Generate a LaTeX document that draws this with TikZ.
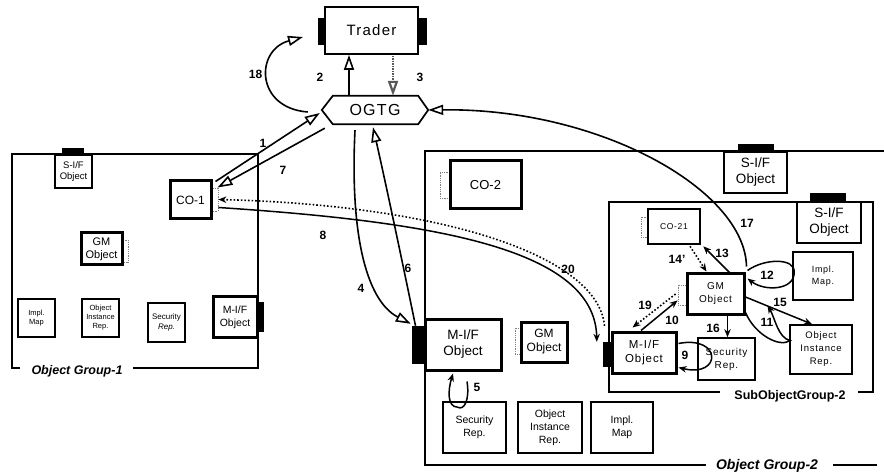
\documentclass[tikz,border=0pt]{standalone}
\usepackage{fontspec}
\setmainfont{Liberation Sans}
\newfontfamily\lsfont{Liberation Sans}[LetterSpace=8]
\usetikzlibrary{arrows.meta,calc}
\newcommand\fz[2]{\fontsize{#1}{#2}\selectfont}
\begin{document}
\begin{tikzpicture}[x=1pt,y=-1pt,
  bx/.style={draw, fill=white, inner sep=0pt, align=center, line width=1.6pt},
  thk/.style={line width=3pt},
  blk/.style={fill=black, draw=none, inner sep=0pt},
  dtab/.style={draw=gray, densely dotted, line width=0.8pt, fill=white, inner sep=0pt},
  frame/.style={line width=2.5pt},
  lbl/.style={font=\bfseries\fz{12}{13}},
  oarr/.style={-{Triangle[open,length=15pt,width=10pt]}, line width=1.6pt},
  farr/.style={-{Stealth[length=8pt,width=6.5pt]}, line width=1.5pt},
  dotarr/.style={-{Stealth[length=8pt,width=6.5pt]}, line width=1.6pt, dotted}
]
\useasboundingbox (0,0) rectangle (884,473);

% ---------- frames ----------
\draw[frame] (20,368) -- (12,368) -- (12,154) -- (258,154) -- (258,368) -- (133,368);
\node[font=\bfseries\itshape\fz{12.5}{14}] (og1) at (77,371) {Object Group-1};
\draw[frame] (884,151) -- (425,151) -- (425,465) -- (706,465);
\draw[frame] (833,465) -- (877,465);
\node[font=\bfseries\itshape\fz{14}{16}] (og2) at (767,466) {Object Group-2};
\draw[frame] (720,392) -- (609,392) -- (609,202) -- (873,202) -- (873,392) -- (858,392);
\node[font=\bfseries\fz{12.5}{14}] (sog2) at (790,396) {SubObjectGroup-2};

% ---------- Trader / OGTG ----------
\node[blk, minimum width=7pt, minimum height=27pt] (trL) at (321.5,31.5) {};
\node[blk, minimum width=9pt, minimum height=27pt] (trR) at (422.5,31.5) {};
\node[bx, line width=1.7pt, minimum width=93pt, minimum height=47pt, font=\lsfont\fz{15}{17}] (trader) at (371.5,30.5) {Trader};
\node[inner sep=0pt, minimum width=106pt, minimum height=28pt, font=\lsfont\fz{16}{18}] (ogtg) at (375,110) {OGTG};
\draw[line width=1.7pt] (ogtg.west) -- ($(ogtg.north west)+(11,0)$) -- ($(ogtg.north east)+(-10,0)$) -- (ogtg.east) -- ($(ogtg.south east)+(-10,0)$) -- ($(ogtg.south west)+(11,0)$) -- cycle;

% ---------- Object Group-1 ----------
\node[blk, minimum width=22pt, minimum height=7pt] (g1sitab) at (73,151.5) {};
\node[bx, line width=2.4pt, minimum width=37pt, minimum height=33pt, font=\fz{9.5}{11}] (g1si) at (73.5,171.5) {S-I/F\\Object};
\node[dtab, minimum width=7pt, minimum height=23pt] (co1tab) at (214.5,199.5) {};
\node[bx, thk, minimum width=41pt, minimum height=38pt, font=\fz{12}{14}] (co1) at (190.5,200) {CO-1};
\node[dtab, minimum width=6pt, minimum height=22pt] (g1gmtab) at (125,251) {};
\node[bx, thk, minimum width=41pt, minimum height=32pt, font=\fz{11}{13}] (g1gm) at (101.5,249) {GM\\Object};
\node[bx, line width=1.5pt, minimum width=37pt, minimum height=38pt, font=\fz{7.5}{9}] (g1im) at (36.5,318) {Impl.\\Map};
\node[bx, line width=1.5pt, minimum width=37pt, minimum height=38pt, font=\fz{7.5}{9}] (g1oir) at (100.5,318) {Object\\Instance\\Rep.};
\node[bx, line width=1.5pt, minimum width=37pt, minimum height=39pt, font=\fz{8}{10}] (g1sr) at (166.5,322.5) {Security\\\textit{Rep.}};
\node[blk, minimum width=8pt, minimum height=30pt] (g1miftab) at (260,317) {};
\node[bx, thk, minimum width=44pt, minimum height=40pt, font=\fz{10.5}{13}] (g1mif) at (235,317) {M-I/F\\Object};

% ---------- Object Group-2 ----------
\node[dtab, minimum width=10pt, minimum height=26pt] (co2tab) at (445,185) {};
\node[bx, thk, minimum width=71pt, minimum height=48pt, font=\fz{13}{15}] (co2) at (485.5,185) {CO-2};
\node[blk, minimum width=36pt, minimum height=8pt] (g2sitab) at (756,148) {};
\node[bx, line width=2.4pt, minimum width=63pt, minimum height=41pt, font=\fz{13.5}{16}] (g2si) at (755.5,172.5) {S-I/F\\Object};
\node[blk, minimum width=13pt, minimum height=38pt] (g2miftab) at (418.5,345) {};
\node[bx, thk, minimum width=76pt, minimum height=51pt, font=\fz{13.5}{16}] (g2mif) at (463,344.5) {M-I/F\\Object};
\node[dtab, minimum width=6pt, minimum height=26pt] (g2gmtab) at (518,341) {};
\node[bx, thk, minimum width=46pt, minimum height=40pt, font=\fz{12}{14}] (g2gm) at (544,342) {GM\\Object};
\node[bx, line width=1.7pt, minimum width=63pt, minimum height=51pt, font=\fz{10.5}{13}] (g2sr) at (474.5,427.5) {Security\\Rep.};
\node[bx, line width=1.7pt, minimum width=64pt, minimum height=51pt, font=\fz{10.5}{13}] (g2oir) at (550,427.5) {Object\\Instance\\Rep.};
\node[bx, line width=1.7pt, minimum width=62pt, minimum height=51pt, font=\fz{10.5}{13}] (g2im) at (622,427.5) {Impl.\\Map};

% ---------- SubObjectGroup-2 ----------
\node[blk, minimum width=36pt, minimum height=9pt] (sgsitab) at (828,197.5) {};
\node[bx, line width=2.6pt, minimum width=64pt, minimum height=41pt, font=\fz{13.5}{16}] (sgsi) at (829,222.5) {S-I/F\\Object};
\node[dtab, minimum width=7pt, minimum height=20pt] (co21tab) at (644.5,227) {};
\node[bx, line width=2.6pt, minimum width=52pt, minimum height=35pt, font=\lsfont\fz{8.5}{10}] (co21) at (674,226.5) {CO-21};
\node[dtab, minimum width=9pt, minimum height=20pt] (sggmtab) at (682.5,295) {};
\node[bx, line width=3pt, minimum width=57pt, minimum height=40pt, font=\lsfont\fz{10}{13}] (sggm) at (715.5,294) {GM\\Object};
\node[bx, line width=1.7pt, minimum width=60pt, minimum height=48pt, font=\lsfont\fz{9}{12}] (sgim) at (823,276) {Impl.\\Map.};
\node[bx, line width=1.7pt, minimum width=62pt, minimum height=49pt, font=\lsfont\fz{9.5}{13}] (sgoir) at (821,349.5) {Object\\Instance\\Rep.};
\node[bx, line width=1.7pt, minimum width=57pt, minimum height=42pt, font=\lsfont\fz{10}{13}] (sgsr) at (726.5,359) {Security\\Rep.};
\node[blk, minimum width=9pt, minimum height=25pt] (sgmiftab) at (607.5,354.5) {};
\node[bx, line width=3pt, minimum width=64pt, minimum height=41pt, font=\lsfont\fz{11.5}{14}] (sgmif) at (644,352.5) {M-I/F\\Object};

% ---------- connectors ----------
\coordinate (a18) at (303,37);
% 2 and 3
\draw[oarr] ($(ogtg.north)+(-26,0)$) -- ($(trader.south)+(-22.5,0)$);
\draw[-{Triangle[open,length=15pt,width=10pt]}, line width=2.2pt, gray!70!black, dash pattern=on 1.5pt off 1pt]
  ($(trader.south)+(21.5,1)$) -- ($(ogtg.north)+(18,0)$);
% 18
\draw[oarr] ($(ogtg.west)+(-14,2)$) .. controls (255,108) and (255,50) .. (a18);
% 1 and 7
\draw[oarr] ($(co1.north east)+(3,2)$) -- ($(ogtg.west)+(-2,3)$);
\draw[oarr] ($(ogtg.south west)+(3,4)$) -- ($(co1.north east)+(5,8)$);
% 4 and 6
\draw[oarr] ($(ogtg.south)+(-20,6)$) .. controls (350,230) and (365,300) .. ($(g2miftab.north west)+(-1,-2)$);
\draw[oarr] ($(g2miftab.north)+(-3,0)$) .. controls (402,260) and (385,180) .. ($(ogtg.south)+(-2,3)$);
% 8 (solid) and 20 (dotted)
\draw[farr] ($(co1tab.east)+(0,8)$) .. controls (440,222) and (595,250) .. ($(sgmiftab.north west)+(-6,0)$);
\draw[dotarr] ($(sgmiftab.north)+(-3,-16)$) .. controls (598,255) and (440,205) .. (co1tab.east);
% 17
\draw[oarr] ($(sggm.north east)+(1,-6)$) .. controls (745,190) and (600,108) .. (ogtg.east);
% 13, 14'
\draw[farr] ($(sggm.north)+(14,0)$) -- ($(co21.south east)+(2,1)$);
\draw[dotarr] ($(co21.south)+(16,1)$) -- ($(sggm.north)+(-9,-1)$);
% 12
\draw[farr] ($(sggm.north east)+(2,-2)$) .. controls (765,258) and (795,258) .. ($(sgim.west)+(2,-4)$)
  .. controls (795,290) and (765,292) .. ($(sggm.north east)+(2,6)$);
% 15
\draw[farr] ($(sggm.east)+(0,3)$) -- ($(sgoir.north)+(-9,0)$);
% 11
\draw[farr] ($(sggm.south east)+(0,-3)$) .. controls (755,335) and (780,348) .. ($(sgoir.west)+(1,-9)$)
  .. controls (778,338) and (775,318) .. ($(sggm.south east)+(22,-10)$);
% 16
\draw[farr] ($(sggm.south)+(12,0)$) -- ($(sgsr.north)+(1,0)$);
% 10, 19
\draw[farr] ($(sgmif.north)+(-3,0)$) -- ($(sggmtab.south west)+(0,-5)$);
\draw[dotarr] ($(sggmtab.west)+(-2,-1)$) -- ($(sgmif.north west)+(22,-3)$);
% 9
\draw[farr] ($(sgmif.east)+(1,-9)$) .. controls (722,335) and (722,378) .. ($(sgmif.east)+(1,15)$);
% 5
\draw[farr] ($(g2mif.south)+(4,10)$) .. controls (470,400) and (464,411) .. ($(g2sr.north)+(-17,6)$)
  .. controls (447,407) and (448,390) .. ($(g2mif.south)+(-10,2)$);

% ---------- labels ----------
\node[lbl] (l18) at (255.5,74) {18};
\node[lbl] (l2) at (320,77) {2};
\node[lbl] (l3) at (420,77) {3};
\node[lbl] (l1) at (263,143) {1};
\node[lbl] (l7) at (283,170) {7};
\node[lbl] (l8) at (323,235) {8};
\node[lbl] (l4) at (361,288) {4};
\node[lbl] (l6) at (408,268) {6};
\node[lbl] (l20) at (568,269) {20};
\node[lbl] (l17) at (747,223) {17};
\node[lbl] (l13) at (722,253) {13};
\node[lbl] (l14) at (677,259) {14’};
\node[lbl] (l12) at (767,275) {12};
\node[lbl] (l15) at (780,302) {15};
\node[lbl] (l19) at (645,305) {19};
\node[lbl] (l10) at (672,320) {10};
\node[lbl] (l16) at (713,328) {16};
\node[lbl] (l11) at (767,322) {11};
\node[lbl] (l9) at (685,355) {9};
\node[lbl] (l5) at (477,387) {5};
\end{tikzpicture}
\end{document}
